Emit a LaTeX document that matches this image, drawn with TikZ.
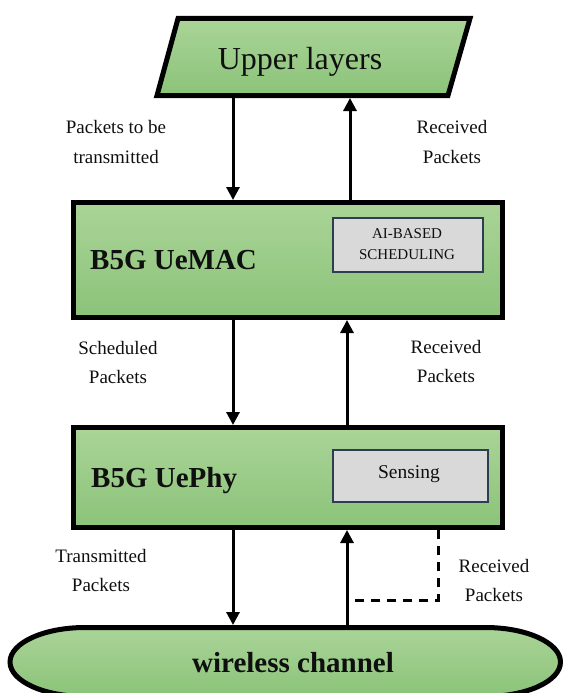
\documentclass[tikz,border=0pt]{standalone}
\usepackage{fontspec}
\setmainfont{Liberation Serif}
\usetikzlibrary{arrows.meta}
\definecolor{gtop}{RGB}{170,212,152}
\definecolor{gbot}{RGB}{139,195,121}
\definecolor{grayfill}{RGB}{217,217,217}
\definecolor{grayedge}{RGB}{44,62,80}
\definecolor{txt}{RGB}{15,15,15}
\tikzset{
  greenbox/.style={draw=black, line width=5pt, top color=gtop, bottom color=gbot, inner sep=0pt},
  graybox/.style={draw=grayedge, line width=1.2pt, fill=grayfill, inner sep=0pt},
  myarrow/.style={line width=3pt, draw=black, -{Triangle[width=13pt,length=13pt]}},
  dasharrow/.style={line width=3pt, draw=black, dash pattern=on 9pt off 7pt},
  lbl/.style={font=\fontsize{19}{29}\selectfont, align=center, text=txt, inner sep=0pt},
  bigbold/.style={font=\fontsize{29}{34}\selectfont\bfseries, text=txt, inner sep=0pt}
}
\begin{document}
\begin{tikzpicture}[x=1pt,y=1pt]
\useasboundingbox (0,0) rectangle (564,-693);
% Upper layers parallelogram
\path[draw=black, line width=5pt, line join=miter, top color=gtop, bottom color=gbot]
  (178,-18.5) -- (470,-18.5) -- (448,-95.5) -- (157,-95.5) -- cycle;
\node[font=\fontsize{32}{36}\selectfont, text=txt, inner sep=0pt, anchor=base] (upper) at (300,-70) {Upper layers};
\coordinate (upA) at (233,-98);
\coordinate (upB) at (350,-98);
% UeMAC
\node[greenbox, minimum width=429pt, minimum height=115pt] (mac) at (288,-260) {};
\node[bigbold, anchor=base west] (macl) at (90,-269) {B5G UeMAC};
\node[graybox, minimum width=150pt, minimum height=54pt] (ai) at (408,-245) {};
\node[font=\fontsize{15}{21}\selectfont, align=center, text=txt, inner sep=0pt] (ait) at (407,-244) {AI-BASED\\SCHEDULING};
% UePhy
\node[greenbox, minimum width=429pt, minimum height=100pt] (phy) at (288,-477.5) {};
\node[bigbold, anchor=base west] (phyl) at (91,-487) {B5G UePhy};
\node[graybox, minimum width=155pt, minimum height=52pt] (sens) at (410.5,-476) {};
\node[font=\fontsize{19.5}{22}\selectfont, text=txt, inner sep=0pt, anchor=base] (senst) at (409,-478) {Sensing};
% wireless channel
\path[draw=black, line width=5pt, top color=gtop, bottom color=gbot]
  (85,-627.5) -- (485.5,-627.5)
  arc[start angle=90, end angle=-90, x radius=75, y radius=34.5]
  -- (85,-696.5)
  arc[start angle=-90, end angle=-270, x radius=75, y radius=34.5] -- cycle;
\node[bigbold, anchor=base] (wc) at (293,-672) {wireless channel};
\coordinate (wcA) at (233,-625);
\coordinate (wcB) at (347,-625);
% arrows
\draw[myarrow] (upA) -- (upA |- mac.north);
\draw[myarrow] (upB |- mac.north) -- (upB);
\draw[myarrow] (mac.south -| 233,0) -- (phy.north -| 233,0);
\draw[myarrow] (phy.north -| 347,0) -- (mac.south -| 347,0);
\draw[myarrow] (phy.south -| wcA) -- (wcA);
\draw[myarrow] (wcB) -- (phy.south -| wcB);
\draw[dasharrow] (phy.south -| 438,0) -- (438,-600) -- (349,-600);
% labels
\node[lbl] (l1) at (116,-142) {Packets to be\\transmitted};
\node[lbl] (l2) at (452,-142) {Received\\Packets};
\node[lbl] (l3) at (118,-362) {Scheduled\\Packets};
\node[lbl] (l4) at (446,-361) {Received\\Packets};
\node[lbl] (l5) at (101,-570) {Transmitted\\Packets};
\node[lbl] (l6) at (494,-580) {Received\\Packets};
\end{tikzpicture}
\end{document}
